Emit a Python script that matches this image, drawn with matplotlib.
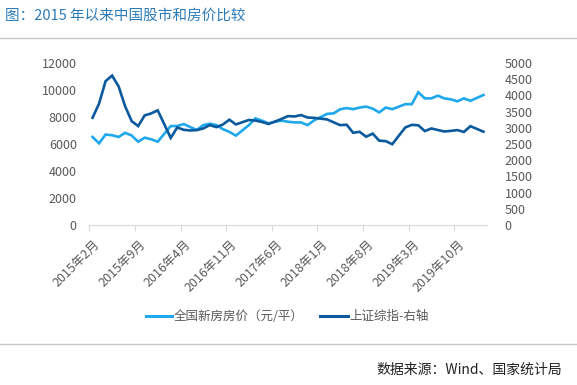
import numpy as np
import matplotlib.pyplot as plt
import matplotlib.transforms as mtrans

plt.rcParams['font.family'] = ['Noto Sans CJK SC', 'DejaVu Sans']

# monthly, 2015-02 .. 2020-02 (January values missing -> nan)
months = [f'{y}年{m}月' for y in range(2015, 2021) for m in range(1, 13)][1:62]

house_price = [6520, 6050, 6700, 6650, 6520, 6830, 6630, 6170, 6470, 6350, 6170,
               np.nan, 7330, 7330, 7480, 7250, 7040, 7400, 7500, 7400, 7100, 6900, 6620,
               np.nan, 7400, 7900, 7730, 7530, 7650, 7730, 7650, 7600, 7600, 7400, 7750,
               np.nan, 8230, 8270, 8570, 8660, 8580, 8700, 8770, 8620, 8340, 8700, 8580,
               np.nan, 8950, 8950, 9830, 9380, 9380, 9580, 9380, 9310, 9160, 9380, 9200,
               np.nan, 9630]

sh_index = [3310, 3748, 4441, 4611, 4277, 3664, 3206, 3053, 3383, 3445, 3539,
            np.nan, 2688, 3010, 2938, 2917, 2930, 2979, 3085, 3020, 3100, 3250, 3104,
            np.nan, 3242, 3222, 3180, 3117, 3192, 3273, 3361, 3349, 3393, 3317, 3307,
            np.nan, 3259, 3169, 3082, 3095, 2847, 2876, 2725, 2821, 2603, 2588, 2494,
            np.nan, 3010, 3091, 3078, 2899, 2979, 2932, 2886, 2905, 2929, 2872, 3050,
            np.nan, 2880]

light = '#1FA8EC'
dark = '#0B5A9E'
grey = '#595959'

fig = plt.figure(figsize=(5.77, 3.85), dpi=100)
W, H = 577, 385
ax = fig.add_axes([89.3 / W, 1 - 225 / H, (486.7 - 89.3) / W, 162 / H])
ax2 = ax.twinx()

x = np.arange(len(months))
hp = np.array(house_price, dtype=float)
si = np.array(sh_index, dtype=float)
m1 = ~np.isnan(hp)
m2 = ~np.isnan(si)
ax.plot(x[m1], hp[m1], color=light, lw=1.9, solid_joinstyle='miter', zorder=3)
ax2.plot(x[m2], si[m2], color=dark, lw=1.9, solid_joinstyle='miter', zorder=3)

ax.set_xlim(-0.5, len(months) - 0.5)
ax.set_ylim(0, 12000)
ax2.set_ylim(0, 5000)
ax.set_yticks(range(0, 12001, 2000))
ax2.set_yticks(range(0, 5001, 500))

for a in (ax, ax2):
    for s in a.spines.values():
        s.set_visible(False)
    a.tick_params(axis='y', length=0, labelsize=9, labelcolor=grey)
ax.spines['bottom'].set_visible(True)
ax.spines['bottom'].set_color('#d9d9d9')
ax.tick_params(axis='y', pad=9)
ax2.tick_params(axis='y', pad=13)

# tick marks at category boundaries, labels every 7 months
ax.set_xticks(np.arange(0, len(months), 7) - 0.5)
ax.set_xticklabels(months[::7], rotation=45, ha='right', va='top',
                   rotation_mode='anchor', fontsize=9, color=grey)
ax.tick_params(axis='x', length=4, color='#d9d9d9', pad=5)
off = mtrans.ScaledTranslation(4 / 100, 0, fig.dpi_scale_trans)
for lbl in ax.get_xticklabels():
    lbl.set_transform(lbl.get_transform() + off)

# title and rules
fig.text(5 / W, 1 - 16 / H, '图：2015 年以来中国股市和房价比较', fontsize=10.5,
         color='#2B7BB9', va='center', ha='left')
fig.add_artist(plt.Line2D([0, 1], [1 - 38 / H] * 2, color='#c8c8c8', lw=1))
fig.add_artist(plt.Line2D([0, 1], [1 - 344 / H] * 2, color='#c8c8c8', lw=1))

# legend
y_leg = 1 - 316 / H
fig.add_artist(plt.Line2D([146 / W, 172 / W], [y_leg] * 2, color=light, lw=2.2))
fig.text(174 / W, y_leg, '全国新房房价（元/平）', fontsize=9, color=grey, va='center')
fig.add_artist(plt.Line2D([320 / W, 348 / W], [y_leg] * 2, color=dark, lw=2.2))
fig.text(349 / W, y_leg, '上证综指-右轴', fontsize=9, color=grey, va='center')

fig.text(562 / W, 1 - 370 / H, '数据来源：Wind、国家统计局', fontsize=10,
         color='#222222', ha='right', va='center')

plt.savefig('out.png', dpi=100)
